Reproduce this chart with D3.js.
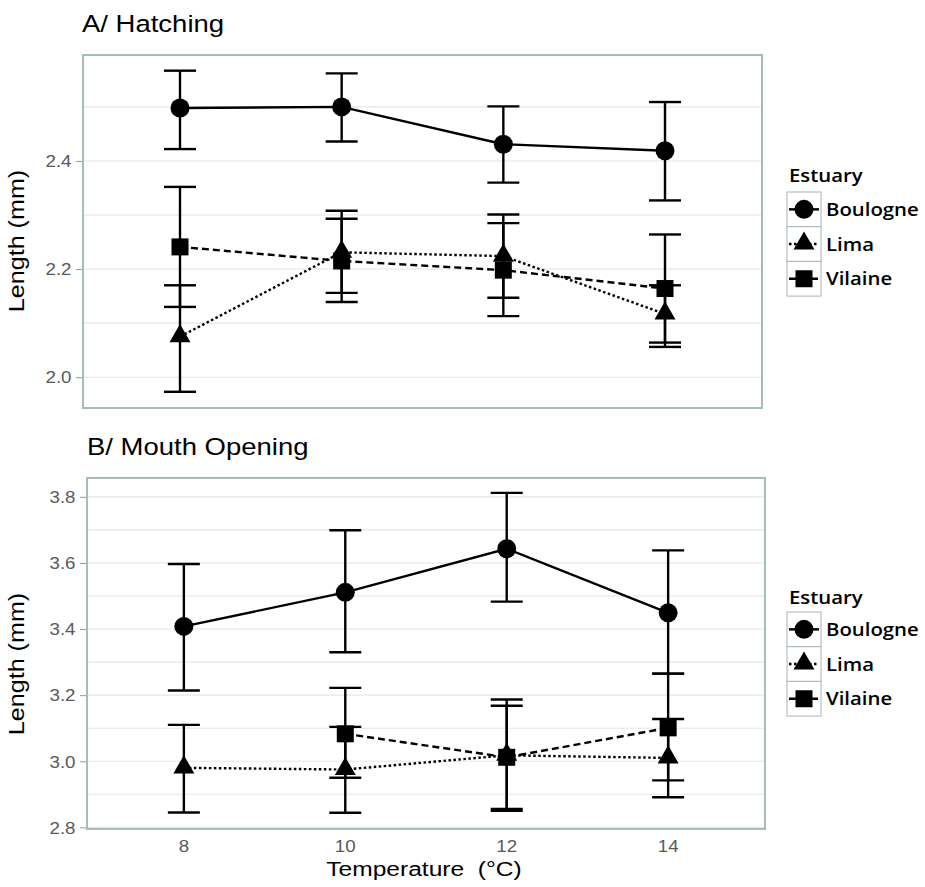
<!DOCTYPE html>
<html><head><meta charset="utf-8">
<script src="https://cdn.jsdelivr.net/npm/d3@7"></script>
<style>body{margin:0;background:#fff}</style>
</head><body><svg id="c" width="925" height="887"></svg>
<script>
// ---------- data ----------
const temperatures = [8, 10, 12, 14];
const estuaries = ["Boulogne", "Lima", "Vilaine"];

// Panel A: Hatching (length, mm)
const hatchBoulogneMean = [2.498, 2.500, 2.431, 2.419];
const hatchBoulogneLow  = [2.422, 2.436, 2.360, 2.327];
const hatchBoulogneHigh = [2.567, 2.562, 2.501, 2.509];
const hatchLimaMean     = [2.075, 2.231, 2.224, 2.117];
const hatchLimaLow      = [1.973, 2.156, 2.147, 2.064];
const hatchLimaHigh     = [2.170, 2.308, 2.301, 2.170];
const hatchVilaineMean  = [2.241, 2.215, 2.198, 2.164];
const hatchVilaineLow   = [2.130, 2.139, 2.113, 2.056];
const hatchVilaineHigh  = [2.352, 2.293, 2.285, 2.264];
const hatchTicks = [2.0, 2.2, 2.4];
const hatchGrid = [2.0, 2.1, 2.2, 2.3, 2.4, 2.5];

// Panel B: Mouth opening (length, mm)
const mouthBoulogneMean = [3.408, 3.511, 3.643, 3.449];
const mouthBoulogneLow  = [3.214, 3.330, 3.483, 3.265];
const mouthBoulogneHigh = [3.597, 3.699, 3.812, 3.638];
const mouthLimaMean     = [2.980, 2.975, 3.018, 3.010];
const mouthLimaLow      = [2.845, 2.844, 2.850, 2.891];
const mouthLimaHigh     = [3.110, 3.104, 3.187, 3.128];
const mouthVilaineMean  = [null, 3.083, 3.012, 3.101];
const mouthVilaineLow   = [null, 2.950, 2.856, 2.942];
const mouthVilaineHigh  = [null, 3.222, 3.168, 3.265];
const mouthTicks = [2.8, 3.0, 3.2, 3.4, 3.6, 3.8];
const mouthGrid = [2.8, 2.9, 3.0, 3.1, 3.2, 3.3, 3.4, 3.5, 3.6, 3.7, 3.8];

function buildSeries(means, lows, highs) {
  return estuaries.map((name, i) => ({
    name,
    points: temperatures.map((t, j) => ({t, m: means[i][j], lo: lows[i][j], hi: highs[i][j]}))
                        .filter(p => p.m != null)
  }));
}
const panels = [
  { title: "A/ Hatching",
    series: buildSeries([hatchBoulogneMean, hatchLimaMean, hatchVilaineMean],
                        [hatchBoulogneLow, hatchLimaLow, hatchVilaineLow],
                        [hatchBoulogneHigh, hatchLimaHigh, hatchVilaineHigh]),
    ticks: hatchTicks, grid: hatchGrid, domain: [1.943, 2.596],
    box: {l: 83, r: 762, t: 55, b: 408}, titlePos: [82, 32], yTitleY: 241,
    legendTop: 192, legendTitleY: 182, xAxis: false },
  { title: "B/ Mouth Opening",
    series: buildSeries([mouthBoulogneMean, mouthLimaMean, mouthVilaineMean],
                        [mouthBoulogneLow, mouthLimaLow, mouthVilaineLow],
                        [mouthBoulogneHigh, mouthLimaHigh, mouthVilaineHigh]),
    ticks: mouthTicks, grid: mouthGrid, domain: [2.795, 3.857],
    box: {l: 87, r: 765, t: 478, b: 829}, titlePos: [87, 455], yTitleY: 664,
    legendTop: 612, legendTitleY: 604, xAxis: true }
];

// ---------- style ----------
const SX = 1.17;              // horizontal stretch of text glyphs in the reference
const FONT = "'Liberation Sans', Arial, Helvetica, sans-serif";
const LFONT = "'Open Sans', 'Noto Sans', sans-serif";
const dashes = {Boulogne: null, Lima: "2.5,2.5", Vilaine: "7,4"};
const LW = 2.4;

const svg = d3.select("#c");

function stext(g, str, x, y, o = {}) {
  return g.append("text")
    .attr("transform", `translate(${x},${y}) rotate(${o.rot || 0}) scale(${o.sx || SX},1)`)
    .attr("text-anchor", o.anchor || "start")
    .attr("font-family", o.font || FONT)
    .attr("font-size", o.size || 16)
    .attr("font-weight", o.weight || "normal")
    .attr("fill", o.fill || "#000")
    .style("white-space", "pre")
    .text(str);
}

function marker(g, name, x, y) {
  if (name === "Boulogne") {
    g.append("circle").attr("cx", x).attr("cy", y).attr("r", 9.5).attr("fill", "#000");
  } else if (name === "Lima") {
    const s = 21, h = s * Math.sqrt(3) / 2;
    g.append("path")
      .attr("d", `M${x},${y - h * 2 / 3 - 0.5}L${x + s / 2},${y + h / 3 - 0.5}L${x - s / 2},${y + h / 3 - 0.5}Z`)
      .attr("fill", "#000");
  } else {
    const s = 17;
    g.append("rect").attr("x", x - s / 2).attr("y", y - s / 2).attr("width", s).attr("height", s).attr("fill", "#000");
  }
}

panels.forEach(p => {
  const g = svg.append("g");
  const x = d3.scalePoint().domain(temperatures).range([p.box.l, p.box.r]).padding(0.6);
  const y = d3.scaleLinear().domain(p.domain).range([p.box.b, p.box.t]);

  // title
  stext(g, p.title, p.titlePos[0], p.titlePos[1], {size: 23.5});

  // gridlines
  g.append("g").selectAll("line").data(p.grid).join("line")
    .attr("x1", p.box.l).attr("x2", p.box.r)
    .attr("y1", d => y(d)).attr("y2", d => y(d))
    .attr("stroke", "#e2e8e6").attr("stroke-width", 1.1);

  // y axis
  const ya = g.append("g").attr("transform", `translate(${p.box.l},0)`)
    .call(d3.axisLeft(y).tickValues(p.ticks).tickFormat(d3.format(".1f")).tickSize(7).tickPadding(3));
  ya.select(".domain").remove();
  ya.selectAll(".tick line").attr("stroke", "#9a9a9a").attr("stroke-width", 1);
  ya.selectAll(".tick text").each(function() {
    d3.select(this).attr("x", null).attr("dy", null)
      .attr("transform", `translate(-11.5,5.8) scale(${SX},1)`)
      .attr("font-family", FONT).attr("font-size", 16).attr("fill", "#595959");
  });

  // y title
  stext(g, "Length (mm)", 23.5, p.yTitleY, {rot: -90, anchor: "middle", size: 21.5});

  // connecting lines
  const line = d3.line().x(d => x(d.t)).y(d => y(d.m));
  p.series.forEach(s => {
    g.append("path").datum(s.points).attr("d", line)
      .attr("fill", "none").attr("stroke", "#000").attr("stroke-width", LW)
      .attr("stroke-dasharray", dashes[s.name]);
  });

  // error bars
  const capW = 16;
  p.series.forEach(s => {
    const eb = g.append("g").selectAll("g").data(s.points).join("g")
      .attr("stroke", "#000").attr("stroke-width", LW);
    eb.append("line").attr("x1", d => x(d.t)).attr("x2", d => x(d.t))
      .attr("y1", d => y(d.lo)).attr("y2", d => y(d.hi));
    eb.append("line").attr("x1", d => x(d.t) - capW).attr("x2", d => x(d.t) + capW)
      .attr("y1", d => y(d.hi)).attr("y2", d => y(d.hi));
    eb.append("line").attr("x1", d => x(d.t) - capW).attr("x2", d => x(d.t) + capW)
      .attr("y1", d => y(d.lo)).attr("y2", d => y(d.lo));
  });

  // points
  p.series.forEach(s => {
    s.points.forEach(d => marker(g, s.name, x(d.t), y(d.m)));
  });

  // panel border
  g.append("rect").attr("x", p.box.l).attr("y", p.box.t)
    .attr("width", p.box.r - p.box.l).attr("height", p.box.b - p.box.t)
    .attr("fill", "none").attr("stroke", "#a8bcb7").attr("stroke-width", 2);

  // x axis labels (bottom panel only)
  if (p.xAxis) {
    temperatures.forEach(t => {
      stext(g, String(t), x(t), 852, {anchor: "middle", size: 16, fill: "#595959"});
    });
    stext(g, "Temperature  (°C)", (p.box.l + p.box.r) / 2 - 2, 876, {anchor: "middle", size: 21});
  }

  // legend
  const lg = g.append("g");
  const lx = 787, kw = 34, kh = 34.7;
  stext(lg, "Estuary", 789, p.legendTitleY, {font: LFONT, size: 18.5, weight: 600, sx: 1.1});
  estuaries.forEach((name, i) => {
    const ky = p.legendTop + i * kh;
    lg.append("rect").attr("x", lx).attr("y", ky).attr("width", kw).attr("height", kh)
      .attr("fill", "#fff").attr("stroke", "#a9b5b2").attr("stroke-width", 1);
    lg.append("line").attr("x1", lx + 2).attr("x2", lx + kw - 2)
      .attr("y1", ky + kh / 2).attr("y2", ky + kh / 2)
      .attr("stroke", "#000").attr("stroke-width", LW)
      .attr("stroke-dasharray", dashes[name]);
    marker(lg, name, lx + kw / 2, ky + kh / 2);
    stext(lg, name, lx + kw + 5, ky + kh / 2 + 6.6, {font: LFONT, size: 18.5, weight: 600, sx: 1.1});
  });
});
</script>
</body></html>
